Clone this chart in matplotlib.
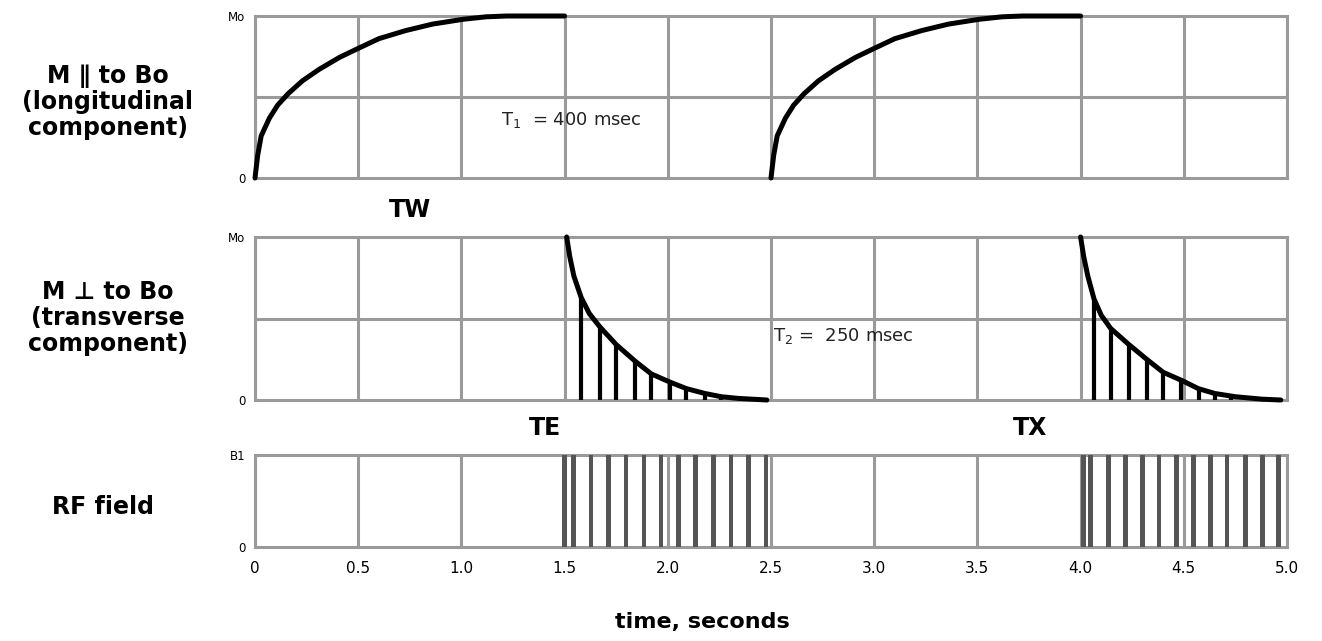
"""
T1 recovery / T2 decay timing diagram with RF pulse train
"""
import matplotlib
matplotlib.use('Agg')
import matplotlib.pyplot as plt

GRID = '#9a9a9a'
INK = '#000000'
RF_COL = '#555555'

plt.rcParams.update({
    'font.family': ['DejaVu Sans'],
    'axes.edgecolor': GRID,
})

# --- longitudinal recovery, seconds / fraction of Mo
t1_curve_1 = [0.0, 0.013, 0.03, 0.07, 0.11, 0.16, 0.23, 0.31, 0.41, 0.50,
              0.60, 0.73, 0.86, 1.01, 1.12, 1.22, 1.50]
m1_curve_1 = [0.0, 0.14, 0.26, 0.37, 0.45, 0.52, 0.60, 0.67, 0.745, 0.80,
              0.86, 0.91, 0.95, 0.98, 0.995, 1.0, 1.0]
t1_curve_2 = [2.50, 2.513, 2.53, 2.57, 2.61, 2.66, 2.73, 2.81, 2.91, 3.00,
              3.10, 3.23, 3.36, 3.51, 3.62, 3.72, 4.00]
m1_curve_2 = [0.0, 0.14, 0.26, 0.37, 0.45, 0.52, 0.60, 0.67, 0.745, 0.80,
              0.86, 0.91, 0.95, 0.98, 0.995, 1.0, 1.0]

# --- transverse decay
t2_curve_1 = [1.51, 1.525, 1.545, 1.58, 1.62, 1.67, 1.75, 1.84, 1.92, 2.01,
              2.09, 2.18, 2.26, 2.34, 2.48]
m2_curve_1 = [1.0, 0.88, 0.76, 0.63, 0.53, 0.45, 0.34, 0.24, 0.16, 0.11,
              0.07, 0.04, 0.02, 0.01, 0.0]
t2_curve_2 = [4.0, 4.015, 4.035, 4.065, 4.10, 4.145, 4.234, 4.32, 4.40, 4.49,
              4.57, 4.65, 4.75, 4.88, 4.97]
m2_curve_2 = [1.0, 0.88, 0.76, 0.62, 0.52, 0.44, 0.34, 0.25, 0.17, 0.12,
              0.07, 0.04, 0.02, 0.005, 0.0]

# echo samples (stems under the decay)
echo_t_1 = [1.58, 1.67, 1.75, 1.84, 1.92, 2.01, 2.09, 2.18, 2.26, 2.34]
echo_m_1 = [0.63, 0.45, 0.34, 0.24, 0.16, 0.11, 0.07, 0.04, 0.02, 0.01]
echo_t_2 = [4.065, 4.145, 4.234, 4.32, 4.40, 4.487, 4.573, 4.653, 4.73]
echo_m_2 = [0.62, 0.44, 0.34, 0.25, 0.17, 0.12, 0.07, 0.04, 0.02]

# RF pulses
rf_t = [1.50, 1.544, 1.629, 1.713, 1.798, 1.884, 1.968, 2.052, 2.134, 2.221,
        2.306, 2.39, 2.476,
        4.013, 4.049, 4.135, 4.217, 4.30, 4.38, 4.465, 4.547, 4.63, 4.71,
        4.80, 4.88, 4.96]
rf_amp = [1.0] * len(rf_t)

xticks = [0, 0.5, 1.0, 1.5, 2.0, 2.5, 3.0, 3.5, 4.0, 4.5, 5.0]
xtick_labels = ['0', '0.5', '1.0', '1.5', '2.0', '2.5', '3.0', '3.5', '4.0', '4.5', '5.0']

W, H = 1322, 641
fig = plt.figure(figsize=(W / 100, H / 100), dpi=100)

def panel(top_px, bot_px):
    l, r = 255 / W, 1287 / W
    return fig.add_axes([l, 1 - bot_px / H, r - l, (bot_px - top_px) / H])

ax1 = panel(16, 178)
ax2 = panel(237, 400)
ax3 = panel(455, 547)

for ax, ylabels in [(ax1, ['0', 'Mo']), (ax2, ['0', 'Mo']), (ax3, ['0', 'B1'])]:
    ax.set_xlim(0, 5)
    ax.set_ylim(0, 1)
    ax.set_xticks(xticks)
    ax.set_yticks([0, 1])
    ax.set_yticklabels(ylabels, fontsize=8.5)
    ax.tick_params(length=0, pad=7)
    for s in ax.spines.values():
        s.set_linewidth(2.2)
        s.set_color(GRID)
    ax.grid(axis='x', color=GRID, linewidth=2.2, zorder=0)

for ax in (ax1, ax2):
    ax.set_xticklabels([])
    ax.axhline(0.5, color=GRID, linewidth=2.2, zorder=0)

ax3.set_xticklabels(xtick_labels, fontsize=11)
ax3.tick_params(axis='x', pad=10)

curve = dict(color=INK, lw=3.6, solid_capstyle='round', solid_joinstyle='round',
             zorder=3, clip_on=False)

# top: T1 recovery
ax1.plot(t1_curve_1, m1_curve_1, **curve)
ax1.plot(t1_curve_2, m1_curve_2, **curve)
ax1.text(1.19, 0.36, r'T$_{\mathregular{1}}$  = 400 msec', fontsize=13,
         va='center', ha='left', color='#222222')

# middle: T2 decay and echo stems
ax2.plot(t2_curve_1, m2_curve_1, **curve)
ax2.plot(t2_curve_2, m2_curve_2, **curve)
ax2.vlines(echo_t_1, 0, echo_m_1, color=INK, lw=3.0, zorder=3)
ax2.vlines(echo_t_2, 0, echo_m_2, color=INK, lw=3.0, zorder=3)
ax2.text(2.51, 0.39, r'T$_{\mathregular{2}}$ =  250 msec', fontsize=13,
         va='center', ha='left', color='#222222')

# bottom: RF pulses
ax3.bar(rf_t, rf_amp, width=0.022, color=RF_COL, align='center', zorder=3)

# labels
lab = dict(fontsize=17, fontweight='bold', ha='center', va='center', linespacing=1.1)
fig.text(108 / W, 1 - 102 / H, 'M \u2225 to Bo\n(longitudinal\ncomponent)', **lab)
fig.text(108 / W, 1 - 318 / H, 'M \u22a5 to Bo\n(transverse\ncomponent)', **lab)
fig.text(103 / W, 1 - 507 / H, 'RF field', **lab)

fig.text(410 / W, 1 - 210 / H, 'TW', **lab)
fig.text(545 / W, 1 - 428 / H, 'TE', **lab)
fig.text(1030 / W, 1 - 428 / H, 'TX', **lab)
fig.text(702 / W, 1 - 622 / H, 'time, seconds', fontsize=16, fontweight='bold',
         ha='center', va='center')

fig.savefig('out.png', dpi=100, facecolor='white')
print('Saved: out.png')
